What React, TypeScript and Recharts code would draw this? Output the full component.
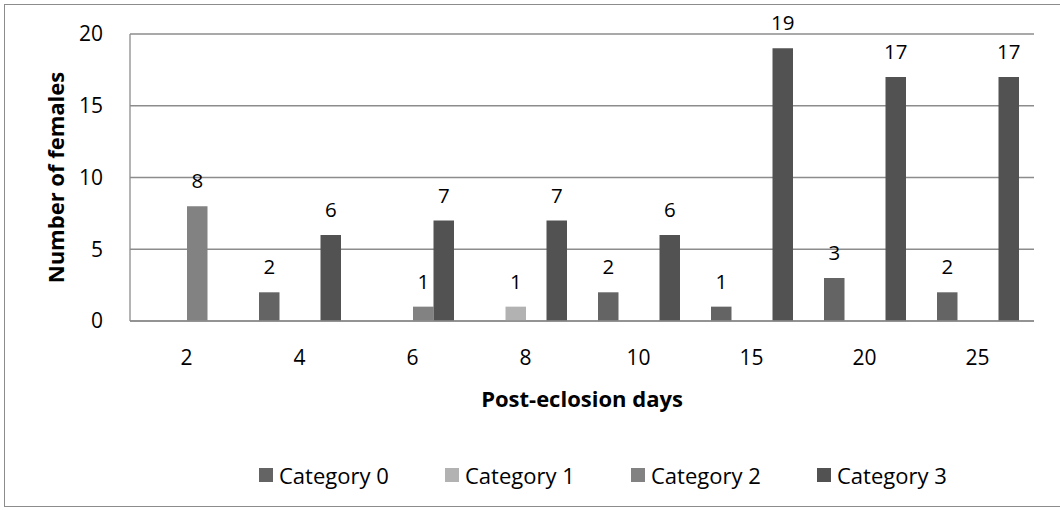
import React from "react";
import { BarChart, Bar, XAxis, YAxis, CartesianGrid, Legend, LabelList } from "recharts";

const days = ["2", "4", "6", "8", "10", "15", "20", "25"];
const category0 = [0, 2, 0, 0, 2, 1, 3, 2];
const category1 = [0, 0, 0, 1, 0, 0, 0, 0];
const category2 = [8, 0, 1, 0, 0, 0, 0, 0];
const category3 = [0, 6, 7, 7, 6, 19, 17, 17];
const yTicks = [0, 5, 10, 15, 20];

const seriesNames = ["Category 0", "Category 1", "Category 2", "Category 3"];
const seriesColors = ["#646464", "#b2b2b2", "#828282", "#525252"];

const data = days.map((d, i) => ({
  day: d,
  c0: category0[i],
  c1: category1[i],
  c2: category2[i],
  c3: category3[i],
}));

const FONT = "'Open Sans', 'Noto Sans', sans-serif";

const hideZero = (v: any) => (v === 0 ? "" : v);

function LegendContent(props: any) {
  const { payload } = props;
  return (
    <div style={{ display: "flex", paddingLeft: 259, fontFamily: FONT, fontSize: 22, color: "#000" }}>
      {(payload || []).map((p: any) => (
        <div key={p.value} style={{ width: 186, display: "flex", alignItems: "center", height: 30 }}>
          <span style={{ width: 14, height: 14, background: p.color, marginRight: 6, display: "inline-block" }} />
          <span style={{ lineHeight: "30px", whiteSpace: "nowrap" }}>{p.value}</span>
        </div>
      ))}
    </div>
  );
}

export default function App() {
  const keys = ["c0", "c1", "c2", "c3"];
  return (
    <div style={{ position: "absolute", left: 0, top: 0, width: 1060, height: 510, background: "#fff", overflow: "hidden" }}>
      <div
        style={{
          position: "absolute",
          left: 4,
          top: 4,
          width: 1056,
          height: 503,
          borderTop: "1.5px solid #8c8c8c",
          borderLeft: "1.5px solid #8c8c8c",
          borderBottom: "1.5px solid #8c8c8c",
          boxSizing: "border-box",
        }}
      />
      <BarChart
        width={1060}
        height={510}
        data={data}
        margin={{ top: 34, right: 26, left: 0, bottom: 89 }}
        barGap={0}
        style={{ fontFamily: FONT }}
      >
        <CartesianGrid vertical={false} stroke="#8c8c8c" strokeWidth={1.3} />
        <XAxis
          dataKey="day"
          height={100}
          tickLine={false}
          tickSize={0}
          tickMargin={29}
          axisLine={{ stroke: "#8c8c8c", strokeWidth: 1.3 }}
          tick={{ fill: "#000", fontSize: 21, fontFamily: FONT }}
          label={{
            content: (p: any) => {
              const vb = p.viewBox;
              return (
                <text
                  x={vb.x + vb.width / 2}
                  y={vb.y + 77}
                  textAnchor="middle"
                  dominantBaseline="central"
                  fontFamily={FONT}
                  fontSize={22}
                  fontWeight="bold"
                  fill="#000"
                >
                  Post-eclosion days
                </text>
              );
            },
          }}
        />
        <YAxis
          width={130}
          domain={[0, 20]}
          ticks={yTicks}
          tickLine={false}
          tickSize={0}
          tickMargin={27}
          axisLine={{ stroke: "#8c8c8c", strokeWidth: 1.3 }}
          tick={{ fill: "#000", fontSize: 21, fontFamily: FONT }}
          label={{
            content: (p: any) => {
              const vb = p.viewBox;
              const cy = vb.y + vb.height / 2;
              return (
                <text
                  x={55}
                  y={cy}
                  transform={`rotate(-90, 55, ${cy})`}
                  textAnchor="middle"
                  dominantBaseline="central"
                  fontFamily={FONT}
                  fontSize={22}
                  fontWeight="bold"
                  fill="#000"
                >
                  Number of females
                </text>
              );
            },
          }}
        />
        <Legend
          layout="horizontal"
          verticalAlign="middle"
          align="center"
          wrapperStyle={{ top: 460, left: 0, width: 1060, height: 30 }}
          content={<LegendContent />}
        />
        {keys.map((k, i) => (
          <Bar
            key={k}
            dataKey={k}
            name={seriesNames[i]}
            fill={seriesColors[i]}
            barSize={20.5}
            isAnimationActive={false}
          >
            <LabelList
              dataKey={k}
              position="top"
              offset={18}
              formatter={hideZero}
              style={{ fill: "#000", fontSize: 20.5, fontFamily: FONT }}
            />
          </Bar>
        ))}
      </BarChart>
    </div>
  );
}
